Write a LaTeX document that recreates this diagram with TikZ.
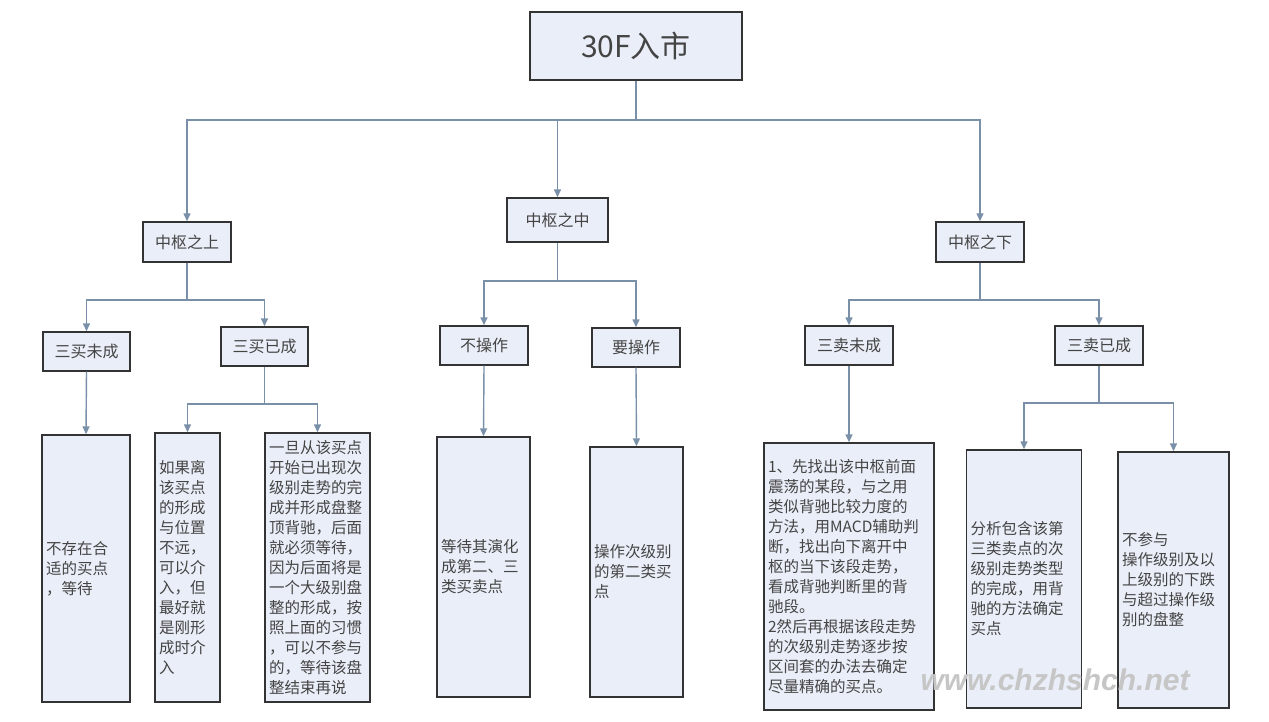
\documentclass[tikz,border=0pt]{standalone}
\usepackage{fontspec}
\newfontfamily\cjk{Noto Sans CJK SC}
\newfontfamily\wm{Liberation Sans}
\usetikzlibrary{arrows.meta}
\definecolor{boxfill}{HTML}{EAEEF8}
\definecolor{boxdraw}{HTML}{333333}
\definecolor{conncol}{HTML}{7A90A8}
\definecolor{txtcol}{HTML}{444444}
\tikzset{
 box/.style={draw=boxdraw,line width=1.4pt,fill=boxfill,text=txtcol,inner sep=0pt,font=\cjk\fontsize{16}{20}\selectfont,align=center},
 leaf/.style={draw=boxdraw,line width=1.4pt,fill=boxfill,text=txtcol,inner sep=4pt,font=\cjk\fontsize{15.5}{20}\selectfont,align=left},
 conn/.style={draw=conncol,line width=1.4pt,-{Triangle[length=8pt,width=7pt]}},
 line/.style={draw=conncol,line width=1.4pt}
}
\begin{document}
\begin{tikzpicture}[x=1pt,y=-1pt]
\useasboundingbox (0,0) rectangle (1269,722);
\node[box,minimum width=212pt,minimum height=68pt,font=\cjk\fontsize{30}{34}\selectfont] (root) at (636,46) {30F入市};
\node[box,minimum width=88pt,minimum height=40pt] (shang) at (187,242) {中枢之上};
\node[box,minimum width=101pt,minimum height=44pt] (zhong) at (557.5,220) {中枢之中};
\node[box,minimum width=88pt,minimum height=40pt] (xia) at (980,242) {中枢之下};
\node[box,minimum width=87pt,minimum height=39pt] (mbwc) at (86.5,351.5) {三买未成};
\node[box,minimum width=87pt,minimum height=39pt] (mbyc) at (264.5,346.5) {三买已成};
\node[box,minimum width=88pt,minimum height=39pt] (bcz) at (484,345.5) {不操作};
\node[box,minimum width=88pt,minimum height=39pt] (ycz) at (636,347.5) {要操作};
\node[box,minimum width=88pt,minimum height=39pt] (mmwc) at (849,345.5) {三卖未成};
\node[box,minimum width=88pt,minimum height=39pt] (mmyc) at (1099,345.5) {三卖已成};
\node[leaf,text width=80pt,minimum height=267pt] (l1) at (86,568.5) {不存在合\\适的买点\\，等待};
\node[leaf,text width=57pt,minimum height=269pt] (l2) at (187.5,567.5) {如果离\\该买点\\的形成\\与位置\\不远，\\可以介\\入，但\\最好就\\是刚形\\成时介\\入};
\node[leaf,text width=97pt,minimum height=269pt] (l3) at (317.5,567.5) {一旦从该买点\\开始已出现次\\级别走势的完\\成并形成盘整\\顶背驰，后面\\就必须等待，\\因为后面将是\\一个大级别盘\\整的形成，按\\照上面的习惯\\，可以不参与\\的，等待该盘\\整结束再说};
\node[leaf,text width=85pt,minimum height=260pt] (l4) at (483.5,567) {等待其演化\\成第二、三\\类买卖点};
\node[leaf,text width=85pt,minimum height=250pt] (l5) at (636.5,572) {操作次级别\\的第二类买\\点};
\node[leaf,text width=162pt,minimum height=267pt] (l6) at (849,576.5) {1、先找出该中枢前面\\震荡的某段，与之用\\类似背驰比较力度的\\方法，用MACD辅助判\\断，找出向下离开中\\枢的当下该段走势，\\看成背驰判断里的背\\驰段。\\2然后再根据该段走势\\的次级别走势逐步按\\区间套的办法去确定\\尽量精确的买点。};
\node[leaf,text width=107pt,minimum height=258pt] (l7) at (1024,579) {分析包含该第\\三类卖点的次\\级别走势类型\\的完成，用背\\驰的方法确定\\买点};
\node[leaf,text width=103pt,minimum height=256pt] (l8) at (1173.5,580) {不参与\\操作级别及以\\上级别的下跌\\与超过操作级\\别的盘整};
\node[font=\wm\bfseries\itshape\fontsize{30}{32}\selectfont,text=gray!45] (wmk) at (1055,680) {www.chzhshch.net};
% connectors
\draw[line] (root.south) -- (636,120);
\draw[conn] (636,120) -| (shang.north);
\draw[conn] (636,120) -| (zhong.north);
\draw[conn] (636,120) -| (xia.north);
\draw[line] (shang.south) -- (187,300);
\draw[conn] (187,300) -| (mbwc.north);
\draw[conn] (187,300) -| (mbyc.north);
\draw[line] (zhong.south) -- (557.5,281);
\draw[conn] (557.5,281) -| (bcz.north);
\draw[conn] (557.5,281) -| (ycz.north);
\draw[line] (xia.south) -- (980,300);
\draw[conn] (980,300) -| (mmwc.north);
\draw[conn] (980,300) -| (mmyc.north);
\draw[conn] (mbwc.south) -- (l1.north);
\draw[line] (mbyc.south) -- (264.5,404);
\draw[conn] (264.5,404) -| (l2.north);
\draw[conn] (264.5,404) -| (l3.north);
\draw[conn] (bcz.south) -- (l4.north);
\draw[conn] (ycz.south) -- (l5.north);
\draw[conn] (mmwc.south) -- (l6.north);
\draw[line] (mmyc.south) -- (1099,403);
\draw[conn] (1099,403) -| (l7.north);
\draw[conn] (1099,403) -| (l8.north);
\end{tikzpicture}
\end{document}
